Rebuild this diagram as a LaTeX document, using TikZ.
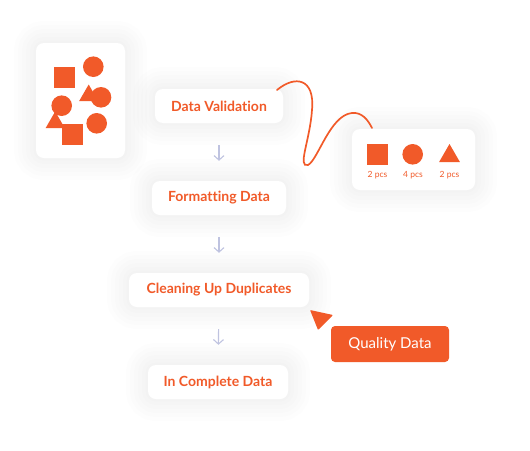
\documentclass[tikz,border=0pt]{standalone}
\usepackage{fontspec}
\setmainfont{Lato}[Ligatures=NoCommon]
\usepackage{xcolor}
\usepackage{tikz}
\usetikzlibrary{arrows.meta,shapes.geometric}
\definecolor{ink}{HTML}{1B1919}
\definecolor{sOrange}{HTML}{F15A29}
\definecolor{sLilac}{HTML}{BFC3E0}
\colorlet{hot}{sOrange}
\colorlet{soft}{sLilac}
\tikzset{
  card/.style={rectangle, rounded corners=8pt, fill=white,
    preaction={draw=black, opacity=0.007, line width=44pt},
    preaction={draw=black, opacity=0.007, line width=36pt},
    preaction={draw=black, opacity=0.007, line width=28pt},
    preaction={draw=black, opacity=0.007, line width=20pt},
    preaction={draw=black, opacity=0.007, line width=12pt},
    preaction={draw=black, opacity=0.007, line width=5pt}},
  stepbox/.style={card, minimum height=34pt, text=hot, font=\bfseries\fontsize{14}{16}\selectfont},
  lbl/.style={font=\fontsize{8.5}{10}\selectfont, text=hot},
}
\begin{document}
\begin{tikzpicture}[x=1pt, y=-1pt,
  sq/.style={rectangle, fill=hot, minimum size=21pt, inner sep=0pt},
  ci/.style={circle, fill=hot, minimum size=20.6pt, inner sep=0pt},
  tri/.style={regular polygon, regular polygon sides=3, fill=hot, minimum size=23pt, inner sep=0pt},
  flow/.style={draw=soft, line width=1.1pt, -{Straight Barb[length=4.5pt, width=10pt]}, shorten <=22pt, shorten >=20pt}]
\useasboundingbox (0,0) rectangle (530,450);
% shapes card
\node[card, minimum width=89pt, minimum height=115pt] (bag) at (80.5,100.5) {};
\foreach \p in {(64.5,77.5),(72.8,134.5)} \node[sq] at \p {};
\foreach \p in {(93.3,66.7),(101,97.3),(61.7,105.7),(96.7,123.3)} \node[ci] at \p {};
\foreach \p in {(88.7,95.5),(55.2,122.5)} \node[tri, minimum size=22pt] at \p {};
% steps
\node[stepbox, minimum width=128pt] (dv) at (219,106) {Data Validation};
\node[stepbox, minimum width=134pt] (fd) at (219,198) {Formatting Data};
\node[stepbox, minimum width=180pt] (cu) at (219,290) {Cleaning Up Duplicates};
\node[stepbox, minimum width=140pt] (ic) at (218,382) {In Complete Data};
\draw[flow] (dv) -- (fd);
\draw[flow] (fd) -- (cu);
\draw[flow] (cu) -- (ic);
% counts card
\node[card, minimum width=123pt, minimum height=61pt] (cnt) at (413.5,159.5) {};
\node[sq] (csq) at (377.5,154.5) {};
\node[ci] (cci) at (412.7,154.3) {};
\node[tri, minimum size=24pt] (ctr) at (449.5,156) {};
\node[lbl] at (377.5,175) {2 pcs};
\node[lbl] at (413,175) {4 pcs};
\node[lbl] at (449.5,175) {2 pcs};
% wire from step to card
\coordinate (w0) at (277,90);
\coordinate (w1) at (372,128);
\draw[hot, line width=1.7pt, line cap=round] (w0) .. controls (295,75) and (315,78) .. (312,110)
  .. controls (310,140) and (297,168) .. (308,165)
  .. controls (318,160) and (330,115) .. (352,113)
  .. controls (362,112) and (368,120) .. (w1);
% quality tag
\node[rectangle, rounded corners=4pt, fill=hot, text=white, minimum width=118pt, minimum height=36pt, font=\fontsize{15}{17}\selectfont] (qd) at (390,344) {Quality Data};
\fill[hot, rounded corners=0.8pt] (310,310) -- (333,315) -- (318,330) -- cycle;
\end{tikzpicture}
\end{document}
